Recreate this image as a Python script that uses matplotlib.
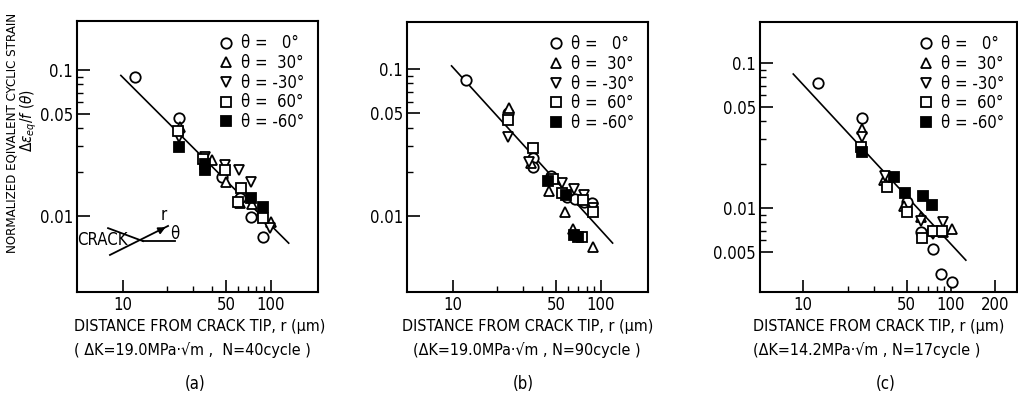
import matplotlib
matplotlib.use('Agg')
import matplotlib.pyplot as plt
from matplotlib import font_manager
from matplotlib.ticker import FixedLocator, FixedFormatter, NullFormatter

# pick a narrow face if one is around, the scan uses condensed lettering
_names = {f.name for f in font_manager.fontManager.ttflist}
_cond = any(f.name == 'DejaVu Sans' and f.stretch == 'condensed' for f in font_manager.fontManager.ttflist)
if 'Liberation Sans Narrow' in _names:
    plt.rcParams['font.family'] = ['Liberation Sans Narrow', 'DejaVu Sans']
    fs = 12.5
elif _cond:
    plt.rcParams['font.family'] = ['DejaVu Sans']
    plt.rcParams['font.stretch'] = 'condensed'
    fs = 12
else:
    plt.rcParams['font.family'] = ['Liberation Sans', 'DejaVu Sans']
    fs = 11.5
plt.rcParams['mathtext.fontset'] = 'dejavusans'

# legend labels
labels = ['θ =   0°', 'θ =  30°', 'θ = -30°', 'θ =  60°', 'θ = -60°']

# (a) dK=19.0, N=40 cycle
a_r0 = [12, 24, 47, 62, 74, 88]
a_e0 = [0.090, 0.047, 0.0185, 0.0133, 0.0099, 0.0072]
a_r30 = [24.5, 40, 50, 62, 75, 87, 100]
a_e30 = [0.041, 0.0242, 0.0170, 0.0123, 0.0120, 0.0110, 0.0091]
a_rm30 = [24, 36, 49, 61, 73, 98]
a_em30 = [0.035, 0.0254, 0.0223, 0.0207, 0.0170, 0.0083]
a_r60 = [23.5, 35, 49, 63, 60, 88]
a_e60 = [0.038, 0.0246, 0.0207, 0.0155, 0.0125, 0.0097]
a_rm60 = [24, 36, 36, 74, 88]
a_em60 = [0.0297, 0.0207, 0.0228, 0.0132, 0.0115]
a_fit_r = [9.7, 132]
a_fit_e = [0.092, 0.0065]

# (b) dK=19.0, N=90 cycle
b_r0 = [12.2, 23.5, 34.7, 34.7, 46, 59, 67, 77, 87]
b_e0 = [0.084, 0.050, 0.0250, 0.0215, 0.0187, 0.0135, 0.0131, 0.0125, 0.0123]
b_r30 = [23.8, 33.5, 44.5, 57, 64.5, 70, 88]
b_e30 = [0.054, 0.023, 0.0148, 0.0107, 0.0082, 0.0074, 0.0062]
b_rm30 = [23.5, 32.5, 55, 66, 77, 88]
b_em30 = [0.0345, 0.0233, 0.0168, 0.0153, 0.0140, 0.0113]
b_r60 = [23.5, 34.7, 47.5, 54.5, 76, 88, 74]
b_e60 = [0.045, 0.029, 0.0179, 0.0143, 0.0128, 0.0107, 0.0072]
b_rm60 = [44, 58, 66, 70]
b_em60 = [0.0172, 0.0140, 0.0074, 0.0072]
b_fit_r = [9.8, 120]
b_fit_e = [0.105, 0.00655]

# (c) dK=14.2, N=17 cycle
c_r0 = [12.6, 25, 37.5, 50.5, 63, 75.5, 86, 101, 74]
c_e0 = [0.073, 0.042, 0.0161, 0.0110, 0.0068, 0.0052, 0.0035, 0.0031, 0.0070]
c_r30 = [25, 35.3, 48, 62.5, 101, 88]
c_e30 = [0.035, 0.0156, 0.0104, 0.0087, 0.0072, 0.0068]
c_rm30 = [25, 36, 63, 88, 75]
c_em30 = [0.031, 0.0166, 0.0082, 0.0080, 0.0066]
c_r60 = [24.6, 37, 50.5, 64, 75, 87]
c_e60 = [0.0263, 0.0140, 0.0094, 0.0062, 0.0070, 0.0070]
c_rm60 = [25, 41, 49, 64.7, 74.5]
c_em60 = [0.0243, 0.0165, 0.0127, 0.0121, 0.0105]
c_fit_r = [8.56, 126]
c_fit_e = [0.084, 0.00438]

xlabel = 'DISTANCE FROM CRACK TIP, r (μm)'
notes = ['( ΔK=19.0MPa·√m ,  N=40cycle )',
         '(ΔK=19.0MPa·√m , N=90cycle )',
         '(ΔK=14.2MPa·√m , N=17cycle )']
letters = ['(a)', '(b)', '(c)']

styles = [('o', 'white'), ('^', 'white'), ('v', 'white'), ('s', 'white'), ('s', 'black')]

# series, fit, axes rect, xlim, ylim, major x, major y, text centres (px)
panels = [
    ([(a_r0, a_e0), (a_r30, a_e30), (a_rm30, a_em30), (a_r60, a_e60), (a_rm60, a_em60)],
     (a_fit_r, a_fit_e), [0.0756, 0.268, 0.2367, 0.679], (4.9, 208), (0.003, 0.217),
     [10, 50, 100], [0.01, 0.05, 0.1], (200, 192, 195)),
    ([(b_r0, b_e0), (b_r30, b_e30), (b_rm30, b_em30), (b_r60, b_e60), (b_rm60, b_em60)],
     (b_fit_r, b_fit_e), [0.3998, 0.268, 0.2367, 0.677], (4.9, 208), (0.00304, 0.209),
     [10, 50, 100], [0.01, 0.05, 0.1], (528, 527, 523)),
    ([(c_r0, c_e0), (c_r30, c_e30), (c_rm30, c_em30), (c_r60, c_e60), (c_rm60, c_em60)],
     (c_fit_r, c_fit_e), [0.7466, 0.268, 0.2525, 0.677], (5.1, 280), (0.00264, 0.192),
     [10, 50, 100, 200], [0.005, 0.01, 0.05, 0.1], (879, 867, 886)),
]

fig = plt.figure(figsize=(10.18, 3.99), dpi=100)

for i, (series, fit, pos, xl, yl, xmaj, ymaj, cx) in enumerate(panels):
    ax = fig.add_axes(pos)
    ax.set_xscale('log')
    ax.set_yscale('log')
    ax.plot(fit[0], fit[1], color='black', lw=1.2)
    handles = []
    for (r, e), (m, fc), lab in zip(series, styles, labels):
        h, = ax.plot(r, e, ls='none', marker=m, mfc=fc, mec='black', ms=7.5, mew=1.3, label=lab)
        handles.append(h)
    ax.set_xlim(*xl)
    ax.set_ylim(*yl)

    ax.xaxis.set_major_locator(FixedLocator(xmaj))
    ax.xaxis.set_major_formatter(FixedFormatter([str(v) for v in xmaj]))
    ax.xaxis.set_minor_locator(FixedLocator([20, 30, 40, 60, 70, 80, 90]))
    ax.xaxis.set_minor_formatter(NullFormatter())
    ax.yaxis.set_major_locator(FixedLocator(ymaj))
    ax.yaxis.set_major_formatter(FixedFormatter([str(v) for v in ymaj]))
    ymin = [0.02, 0.03, 0.04, 0.06, 0.07, 0.08, 0.09]
    if i == 2:
        ymin = [0.006, 0.007, 0.008, 0.009] + ymin
    ax.yaxis.set_minor_locator(FixedLocator(ymin))
    ax.yaxis.set_minor_formatter(NullFormatter())
    ax.tick_params(which='major', direction='in', length=9, width=1.2, labelsize=fs, pad=3)
    ax.tick_params(which='minor', direction='in', length=4.5, width=1.0)
    for s in ax.spines.values():
        s.set_linewidth(1.5)

    ax.legend(handles=handles, loc='upper right', frameon=False, fontsize=fs,
              handletextpad=0.4, labelspacing=0.1, borderaxespad=0.4,
              handlelength=1.0, markerscale=1.0)

    fig.text(cx[0] / 1018, 1 - 327 / 399, xlabel, ha='center', va='center', fontsize=fs - 0.5)
    fig.text(cx[1] / 1018, 1 - 350 / 399, notes[i], ha='center', va='center', fontsize=fs - 0.5)
    fig.text(cx[2] / 1018, 1 - 384 / 399, letters[i], ha='center', va='center', fontsize=fs)

    if i == 0:
        # crack sketch inset
        ax.plot([0.129, 0.274], [0.236, 0.188], transform=ax.transAxes, color='black', lw=1.3)
        ax.plot([0.137, 0.378], [0.137, 0.244], transform=ax.transAxes, color='black', lw=1.3)
        ax.plot([0.274, 0.407], [0.188, 0.188], transform=ax.transAxes, color='black', lw=1.3)
        ax.annotate('', xy=(0.378, 0.244), xytext=(0.33, 0.222), xycoords='axes fraction',
                    arrowprops=dict(arrowstyle='-|>', color='black', lw=1.3))
        ax.text(0.104, 0.192, 'CRACK', transform=ax.transAxes, ha='center', va='center', fontsize=fs)
        ax.text(0.361, 0.285, 'r', transform=ax.transAxes, ha='center', va='center', fontsize=fs)
        ax.text(0.405, 0.215, 'θ', transform=ax.transAxes, ha='center', va='center', fontsize=fs)

fig.text(12 / 1018, 1 - 133 / 399, 'NORMALIZED EQIVALENT CYCLIC STRAIN', rotation=90,
         ha='center', va='center', fontsize=fs - 2.5)
fig.text(29 / 1018, 1 - 120 / 399, r'$\Delta\varepsilon_{eq}/f\ (\theta)$', rotation=90,
         ha='center', va='center', fontsize=11)

fig.savefig('out.png', dpi=100)
